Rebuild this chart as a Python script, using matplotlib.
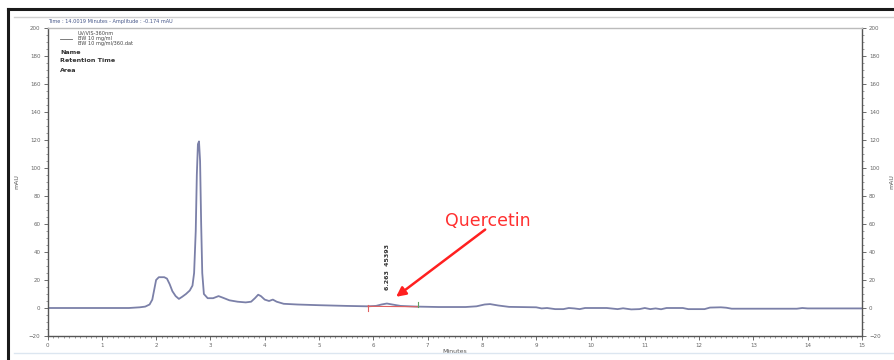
import matplotlib
matplotlib.use("Agg")
import matplotlib.pyplot as plt
from matplotlib.ticker import MultipleLocator
from matplotlib.lines import Line2D

W, H = 894, 360

# chromatogram trace (minutes, mAU)
times = [0.0, 1.5, 1.7, 1.8, 1.88, 1.93, 1.97, 2.0, 2.05, 2.15, 2.2, 2.25, 2.3, 2.36, 2.42,
         2.48, 2.55, 2.62, 2.67, 2.7, 2.73, 2.75, 2.77, 2.79, 2.81, 2.83, 2.85, 2.88, 2.95,
         3.05, 3.15, 3.22, 3.35, 3.5, 3.65, 3.75, 3.82, 3.88, 3.93, 4.0, 4.08, 4.15, 4.22,
         4.35, 4.6, 5.0, 5.5, 5.9, 6.05, 6.15, 6.25, 6.35, 6.5, 6.8, 7.2, 7.7, 7.9, 8.05,
         8.15, 8.3, 8.5, 9.0, 9.1, 9.2, 9.35, 9.5, 9.6, 9.7, 9.8, 9.9, 10.3, 10.5, 10.6,
         10.75, 10.9, 11.0, 11.1, 11.2, 11.3, 11.4, 11.7, 11.8, 12.1, 12.2, 12.4, 12.5,
         12.6, 13.0, 13.8, 13.9, 14.0, 15.0]
signal = [0.0, 0.0, 0.5, 1.0, 2.5, 6.0, 14.0, 20.0, 22.0, 22.0, 21.0, 17.0, 12.0, 8.5, 6.5,
          8.0, 10.0, 12.5, 16.0, 25.0, 55.0, 95.0, 117.0, 119.0, 105.0, 60.0, 25.0, 10.0, 7.0,
          7.0, 8.5, 7.5, 5.5, 4.5, 4.0, 4.5, 7.0, 9.5, 8.5, 6.0, 5.0, 6.0, 4.5,
          3.0, 2.5, 2.0, 1.5, 1.2, 1.5, 2.5, 3.2, 2.5, 1.5, 1.0, 0.7, 0.7, 1.2, 2.5,
          2.8, 1.8, 0.8, 0.5, -0.3, 0.0, -0.8, -0.8, 0.0, -0.3, -0.8, 0.0, 0.0, -0.8, -0.2,
          -1.0, -0.8, 0.0, -0.8, -0.3, -0.9, 0.0, 0.0, -0.8, -0.8, 0.3, 0.5, 0.2,
          -0.5, -0.5, -0.5, 0.0, -0.3, -0.3]

# integration baseline of the quercetin peak
base_t = [5.9, 6.83]
base_v = [1.2, 0.9]
peak_rt = 6.263
peak_label = "6.263  45393"

legend_lines = ["UV/VIS-360nm", "BW 10 mg/ml", "BW 10 mg/ml/360.dat"]
info_lines = ["Name", "Retention Time", "Area"]
header = "Time : 14.0019 Minutes - Amplitude : -0.174 mAU"

fig = plt.figure(figsize=(W / 100, H / 100), dpi=100)
fig.patch.set_facecolor("white")

def px(x, y):
    return x / W, 1 - y / H

# frame decorations
fig.add_artist(Line2D([8 / W, 1], [1 - 9 / H] * 2, color="#1a1a1a", lw=2.2))
fig.add_artist(Line2D([8 / W] * 2, [0, 1 - 9 / H], color="#1a1a1a", lw=2.2))
fig.add_artist(Line2D([14 / W, 1], [1 - 17 / H] * 2, color="#d0d0d0", lw=1))
fig.add_artist(Line2D([14 / W, 1], [1 - 353 / H] * 2, color="#dce6f0", lw=1))

x0, x1 = 47.5, 862
y0, y1 = 28, 336
ax = fig.add_axes([x0 / W, 1 - y1 / H, (x1 - x0) / W, (y1 - y0) / H])
ax.plot(times, signal, color="#7b80a8", lw=1.3)
ax.plot(base_t, base_v, color="#e06060", lw=0.8)
ax.plot([base_t[0]] * 2, [-2, 2], color="#e06060", lw=0.8)
ax.plot([base_t[1]] * 2, [0.5, 4], color="#60a060", lw=0.8)

ax.set_xlim(0, 15)
ax.set_ylim(-20, 200)
ax.xaxis.set_major_locator(MultipleLocator(1))
ax.xaxis.set_minor_locator(MultipleLocator(0.1))
ax.yaxis.set_major_locator(MultipleLocator(20))
ax.yaxis.set_minor_locator(MultipleLocator(5))
ax.tick_params(axis="both", which="major", labelsize=4, colors="#555555", length=3, width=0.6,
               labelcolor="#666666", pad=2)
ax.tick_params(axis="both", which="minor", colors="#777777", length=1.5, width=0.5)
ax.tick_params(axis="y", which="both", right=True, labelright=True)
for s in ax.spines.values():
    s.set_color("#555555")
    s.set_linewidth(1.0)
ax.spines["top"].set_color("#bbbbbb")

ax.set_xlabel("Minutes", fontsize=4.5, color="#555555", labelpad=1)
ax.text(-0.037, 0.5, "mAU", transform=ax.transAxes, rotation=90, fontsize=4.5,
        color="#555555", ha="center", va="center")
ax.text(1.037, 0.5, "mAU", transform=ax.transAxes, rotation=90, fontsize=4.5,
        color="#555555", ha="center", va="center")

# peak label
ax.text(peak_rt, 13, peak_label, rotation=90, fontsize=4.5, fontweight="bold",
        color="#333333", ha="center", va="bottom")

# annotation
ax.text(8.1, 62, "Quercetin", fontsize=12.5, color="#ff3030", ha="center", va="center")
ax.annotate("", xy=(6.42, 8), xytext=(8.06, 56),
            arrowprops=dict(arrowstyle="-|>", color="#ff2020", lw=1.8, mutation_scale=14,
                            shrinkA=0, shrinkB=0))

# header and legend text
fig.text(*px(48, 22), header, fontsize=3.6, color="#445588", va="center")
fig.text(*px(78, 33), legend_lines[0], fontsize=3.6, color="#444444", va="center")
fig.add_artist(Line2D([60 / W, 72 / W], [1 - 38.5 / H] * 2, color="#666666", lw=0.6))
fig.text(*px(78, 38.5), legend_lines[1], fontsize=3.6, color="#444444", va="center")
fig.text(*px(78, 44), legend_lines[2], fontsize=3.6, color="#444444", va="center")
for i, t in enumerate(info_lines):
    fig.text(*px(60, 52 + 9 * i), t, fontsize=4.6, fontweight="bold", color="#333333", va="center")

fig.savefig("out.png", dpi=100, facecolor="white")
